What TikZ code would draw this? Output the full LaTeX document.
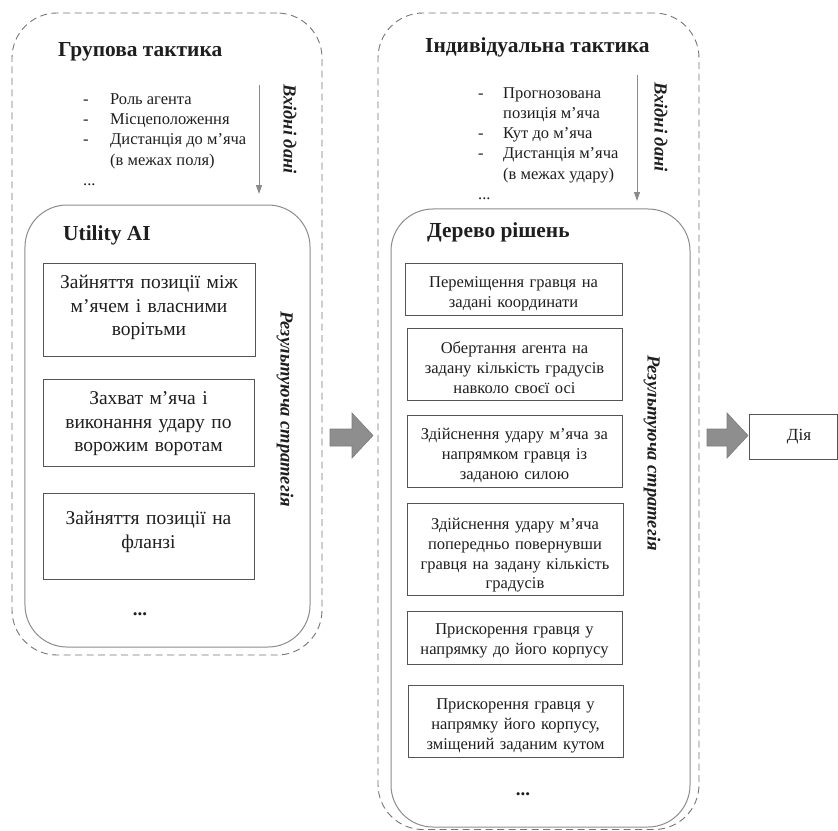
\documentclass[tikz,border=0pt]{standalone}
\usepackage{fontspec}
\setmainfont{Liberation Serif}
\usetikzlibrary{arrows.meta}
\definecolor{txt}{HTML}{1E1E1E}
\definecolor{dashgray}{HTML}{757575}
\definecolor{panelgray}{HTML}{8C8C8C}
\definecolor{boxgray}{HTML}{555555}
\definecolor{arrowgray}{HTML}{8A8A8A}
\definecolor{bigfill}{HTML}{8E8E8E}
\definecolor{bigdraw}{HTML}{7C7C7C}
\tikzset{
  outerpanel/.style={draw=dashgray, line width=0.9bp, dash pattern=on 7bp off 4.5bp, rounded corners=45bp, inner sep=0pt},
  innerpanel/.style={draw=panelgray, line width=1bp, rounded corners=42bp, inner sep=0pt},
  lbox/.style={draw=boxgray, line width=0.9bp, inner sep=0pt, align=center, text=txt, text height=16bp, font=\fontsize{19.5bp}{23.5bp}\selectfont},
  rbox/.style={draw=boxgray, line width=0.9bp, inner sep=0pt, align=center, text=txt, text height=14bp, font=\fontsize{16.5bp}{19.8bp}\selectfont},
  ttl/.style={font=\bfseries\fontsize{21.4bp}{25bp}\selectfont, anchor=base west, inner sep=0pt, text=txt},
  vlabel/.style={font=\bfseries\itshape\fontsize{18.5bp}{22bp}\selectfont, rotate=-90, inner sep=0pt, text=txt},
  listnode/.style={font=\fontsize{16.5bp}{20.3bp}\selectfont, anchor=north west, inner sep=0pt, text=txt},
  dotsnode/.style={font=\bfseries\fontsize{19bp}{22bp}\selectfont, anchor=base, inner sep=0pt, text=txt},
  smallarrow/.style={draw=arrowgray, line width=1bp, -{Triangle[length=9bp,width=6bp]}},
  bigarrow/.style={fill=bigfill, draw=bigdraw, line width=0.6bp}
}
\begin{document}
\begin{tikzpicture}[x=1bp,y=-1bp]
\useasboundingbox (0,0) rectangle (838,831);

% ---------- left panel ----------
\node[outerpanel, minimum width=310bp, minimum height=642bp] (gpanel) at (167,334) {};
\node[ttl] (gtitle) at (58,56) {Групова тактика};
\node[listnode] (glist) at (83,89.8) {\begin{tabular}{@{}p{27bp}@{}l@{}}
-&Роль агента\\
-&Місцеположення\\
-&Дистанція до м’яча\\
&(в межах поля)\\
...&
\end{tabular}};
\coordinate (gin) at (259,85);
\coordinate (gout) at (259,194);
\draw[smallarrow] (gin) -- (gout);
\node[vlabel] (gvin) at (290,129) {Вхідні дані};

\node[innerpanel, minimum width=285bp, minimum height=442bp] (upanel) at (167.5,426) {};
\node[ttl] (utitle) at (63,240.7) {Utility AI};
\node[lbox, text width=208bp, minimum width=212bp, minimum height=93bp, text depth=58bp] (u1) at (149,309.5) {Зайняття позиції між\\м’ячем і власними\\ворітьми};
\node[lbox, text width=207bp, minimum width=211bp, minimum height=87bp, text depth=52bp] (u2) at (148.5,422.5) {Захват м’яча і\\виконання удару по\\ворожим воротам};
\node[lbox, text width=207bp, minimum width=211bp, minimum height=86bp, text depth=39bp] (u3) at (148.5,536) {Зайняття позиції на\\фланзі};
\node[dotsnode] (udots) at (140,615) {...};
\node[vlabel] (gvout) at (285,409) {Результуюча стратегія};

% ---------- arrow 1 ----------
\filldraw[bigarrow] (330,429) -- (352,429) -- (352,413) -- (373,435.5) -- (352,458) -- (352,446) -- (330,446) -- cycle;

% ---------- right panel ----------
\node[outerpanel, minimum width=321bp, minimum height=816.5bp] (ipanel) at (538.5,421.25) {};
\node[ttl] (ititle) at (425,52.3) {Індивідуальна тактика};
\node[listnode, font=\fontsize{16.5bp}{20.2bp}\selectfont] (ilist) at (478,83.9) {\begin{tabular}{@{}p{25bp}@{}l@{}}
-&Прогнозована\\
&позиція м’яча\\
-&Кут до м’яча\\
-&Дистанція м’яча\\
&(в межах удару)\\
...&
\end{tabular}};
\coordinate (iin) at (637,75);
\coordinate (iout) at (637,201);
\draw[smallarrow] (iin) -- (iout);
\node[vlabel] (ivin) at (661,127) {Вхідні дані};

\node[innerpanel, minimum width=299bp, minimum height=618bp] (dpanel) at (540.5,518) {};
\node[ttl] (dtitle) at (427,237.3) {Дерево рішень};
\node[rbox, text width=213bp, minimum width=217bp, minimum height=52bp, text depth=17bp] (d1) at (513.5,289) {Переміщення гравця на\\задані координати};
\node[rbox, text width=211bp, minimum width=215bp, minimum height=72bp, text depth=35bp] (d2) at (514.5,364) {Обертання агента на\\задану кількість градусів\\навколо своєї осі};
\node[rbox, text width=211bp, minimum width=215bp, minimum height=72bp, text depth=37bp] (d3) at (514.5,451) {Здійснення удару м’яча за\\напрямком гравця із\\заданою силою};
\node[rbox, text width=212bp, minimum width=216bp, minimum height=92bp, text depth=53bp] (d4) at (515,549) {Здійснення удару м’яча\\попередньо повернувши\\гравця на задану кількість\\градусів};
\node[rbox, text width=211bp, minimum width=215bp, minimum height=53bp, text depth=20bp] (d5) at (514.5,637.5) {Прискорення гравця у\\напрямку до його корпусу};
\node[rbox, text width=211bp, minimum width=215bp, minimum height=72bp, text depth=37bp] (d6) at (515.5,721) {Прискорення гравця у\\напрямку його корпусу,\\зміщений заданим кутом};
\node[dotsnode] (ddots) at (523,795) {...};
\node[vlabel] (ivout) at (652,453) {Результуюча стратегія};

% ---------- arrow 2 and action ----------
\filldraw[bigarrow] (707,429) -- (727,429) -- (727,413) -- (748,435.5) -- (727,458) -- (727,446) -- (707,446) -- cycle;
\node[draw=boxgray, line width=0.9bp, inner sep=0pt, minimum width=88bp, minimum height=45bp, text=txt, font=\fontsize{17bp}{20bp}\selectfont] (dia) at (793,436.5) {\hspace*{12bp}Дія};
\end{tikzpicture}
\end{document}
